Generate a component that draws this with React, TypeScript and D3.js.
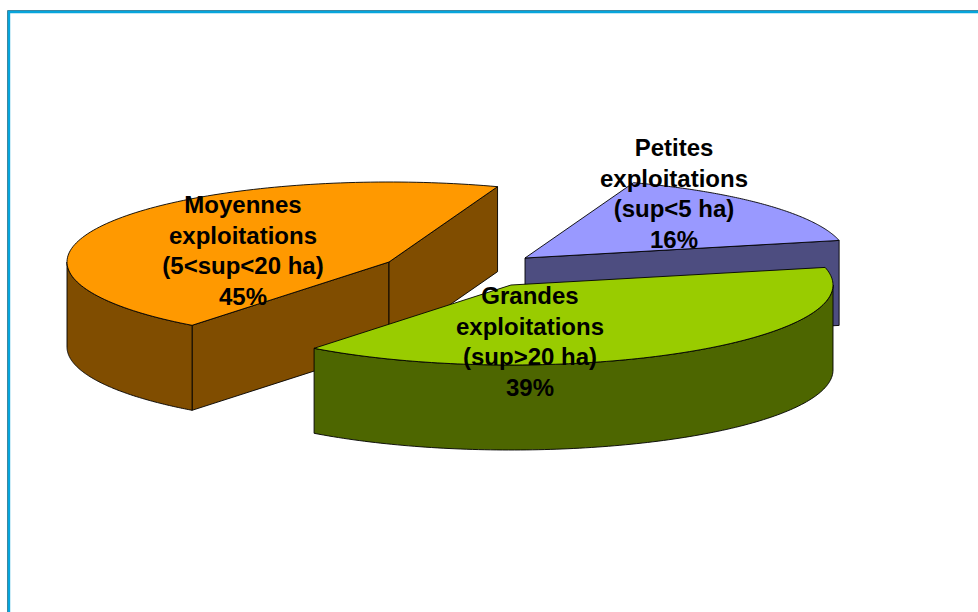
import React from "react";
import * as d3 from "d3";

const categories = ["Moyennes", "Petites", "Grandes"];
const values = [45, 16, 39];
const labels = [
  ["Moyennes", "exploitations", "(5<sup<20 ha)", "45%"],
  ["Petites", "exploitations", "(sup<5 ha)", "16%"],
  ["Grandes", "exploitations", "(sup>20 ha)", "39%"],
];
const topColors = ["#ff9900", "#9999ff", "#99cc00"];
const sideColors = ["#804d00", "#4d4d80", "#4d6600"];
const centers = [
  [389, 262],
  [525, 258],
  [511, 285],
];
const labelCenters = [
  [243, 205],
  [674, 148],
  [530, 296],
];
const drawOrder = [1, 0, 2];

const RX = 322;
const RY = 80;
const DEPTH = 85;
const LINE_H = 30.5;
const deg = Math.PI / 180;

const pie = d3
  .pie<number>()
  .sort(null)
  .startAngle(217.7 * deg)
  .endAngle((217.7 + 360) * deg);
const arcs = pie(values);

const ellipsePt = (cx: number, cy: number, a: number): [number, number] => [
  cx + RX * Math.sin(a),
  cy - RY * Math.cos(a),
];

const arcPts = (cx: number, cy: number, a0: number, a1: number) =>
  d3.range(0, 121).map((i) => ellipsePt(cx, cy, a0 + ((a1 - a0) * i) / 120));

const line = d3.line();

function Slice({ i }: { i: number }) {
  const [cx, cy] = centers[i];
  const { startAngle: a0, endAngle: a1 } = arcs[i];
  const stroke = { stroke: "#000", strokeWidth: 0.9, strokeLinejoin: "round" as const };
  const top = [[cx, cy] as [number, number], ...arcPts(cx, cy, a0, a1)];

  // Visible outer wall: part of the rim in the front half
  const walls: [number, number][][] = [];
  for (const k of [0, 1, 2]) {
    const lo = Math.max(a0, (90 + 360 * k - 360) * deg);
    const hi = Math.min(a1, (270 + 360 * k - 360) * deg);
    if (hi > lo) {
      const upper = arcPts(cx, cy, lo, hi);
      const lower = [...upper].reverse().map(([x, y]) => [x, y + DEPTH] as [number, number]);
      walls.push([...upper, ...lower]);
    }
  }
  const cut = (a: number) => {
    const p = ellipsePt(cx, cy, a);
    return [
      [cx, cy],
      p,
      [p[0], p[1] + DEPTH],
      [cx, cy + DEPTH],
    ] as [number, number][];
  };
  // Cut faces facing the viewer
  const cuts: [number, number][][] = [];
  if (i === 0) cuts.push(cut(a0));
  if (i === 0 || i === 1) cuts.push(cut(a1));
  return (
    <g>
      {cuts.map((c, k) => (
        <path key={"c" + k} d={line(c) + "Z"} fill={sideColors[i]} {...stroke} />
      ))}
      {walls.map((w, k) => (
        <path key={"w" + k} d={line(w) + "Z"} fill={sideColors[i]} {...stroke} />
      ))}
      <path d={line(top) + "Z"} fill={topColors[i]} {...stroke} />
    </g>
  );
}

export default function App() {
  return (
    <svg
      width={978}
      height={612}
      style={{ position: "absolute", left: 0, top: 0, background: "#fff" }}
      data-categories={categories.join(",")}
    >
      <path d="M7.5 612V10.5H978" fill="none" stroke="#4f7f90" strokeWidth={1} />
      <path d="M9 612V12H978" fill="none" stroke="#07a5dc" strokeWidth={2.4} />
      {drawOrder.map((i) => (
        <Slice key={i} i={i} />
      ))}
      {drawOrder.map((i) => (
        <text
          key={i}
          textAnchor="middle"
          fontFamily="'Liberation Sans', Arial, sans-serif"
          fontWeight="bold"
          fontSize={24}
          fill="#000"
        >
          {labels[i].map((t, k) => (
            <tspan key={k} x={labelCenters[i][0]} y={labelCenters[i][1] + 8 + k * LINE_H}>
              {t}
            </tspan>
          ))}
        </text>
      ))}
    </svg>
  );
}
